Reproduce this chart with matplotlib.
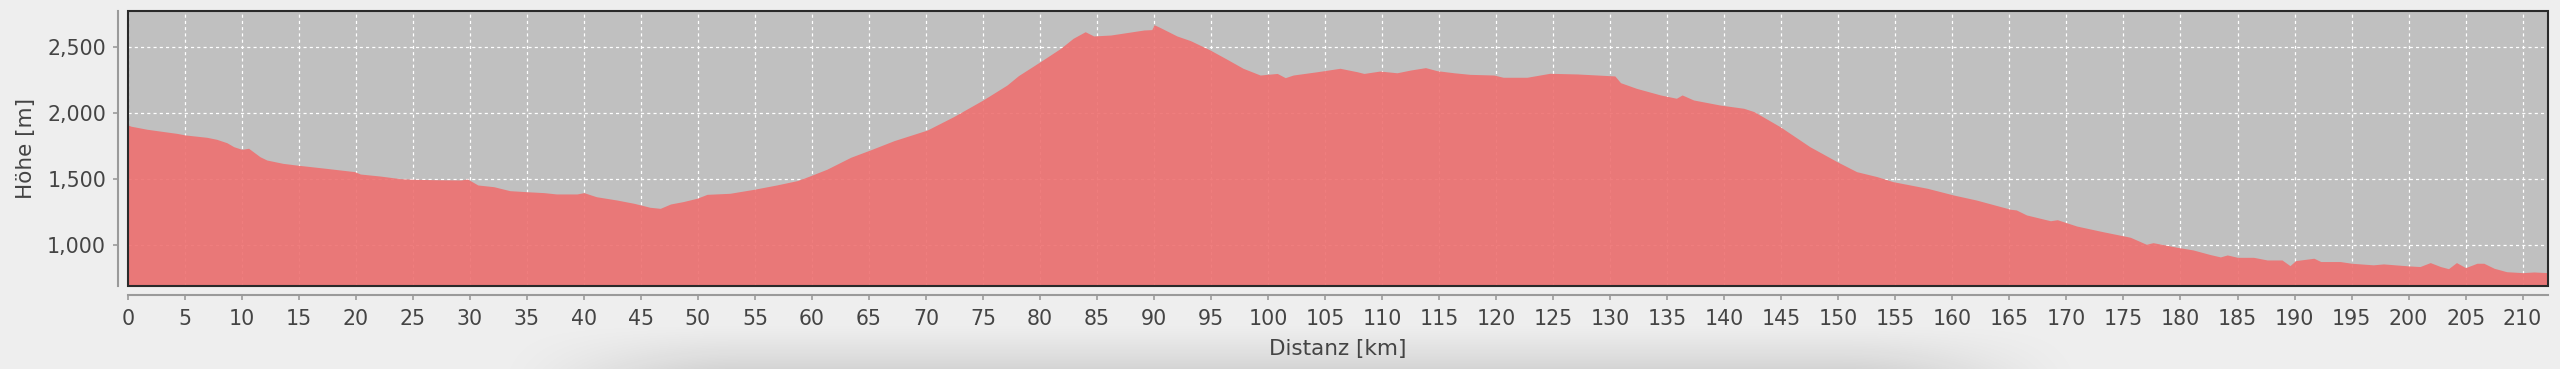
import matplotlib
matplotlib.use("Agg")
import numpy as np
import matplotlib.pyplot as plt
from matplotlib.patches import Rectangle
from matplotlib.ticker import FuncFormatter

# Elevation profile (distance in km, elevation in m)
distance_km = [
    0.0, 0.3, 1.7, 4.3, 5.05, 6.95, 7.8, 8.7, 9.3, 10.0, 10.6, 11.6, 12.2, 13.6,
    14.8, 17.4, 19.9, 20.4, 22.1, 23.9, 25.1, 27.0, 29.2, 29.8, 30.7, 32.1, 33.5,
    35.0, 36.5, 37.6, 39.4, 40.0, 41.1, 42.9, 44.4, 45.8, 46.7, 47.6, 48.7, 49.9,
    50.8, 52.8, 54.9, 56.9, 58.7, 59.8, 61.3, 63.4, 65.1, 67.2, 70.1, 72.4, 75.0,
    77.1, 78.1, 80.0, 81.8, 82.9, 83.96, 84.7, 86.2, 89.1, 89.8, 90.0, 90.5, 92.0,
    93.2, 94.9, 96.4, 97.8, 99.3, 100.8, 101.5, 102.2, 104.3, 106.3, 107.8, 108.4,
    109.8, 111.3, 112.5, 113.8, 114.8, 116.3, 117.7, 119.8, 120.6, 122.7, 124.7,
    127.1, 130.4, 130.9, 132.3, 134.4, 135.8, 136.3, 137.3, 139.6, 141.7, 142.6,
    144.9, 147.5, 149.9, 151.6, 153.4, 154.8, 157.8, 160.1, 162.1, 165.1, 165.6,
    166.5, 168.6, 169.2, 170.9, 173.2, 175.6, 177.0, 177.6, 179.7, 181.1, 182.6,
    183.5, 184.1, 185.0, 186.4, 187.6, 188.9, 189.6, 190.1, 191.7, 192.3, 194.0,
    195.0, 196.9, 197.8, 200.0, 201.0, 201.9, 202.8, 203.5, 204.2, 205.0, 206.0,
    206.6, 207.5, 208.6, 210.0, 211.0, 212.2,
]
elevation_m = [
    1911, 1902, 1879, 1848, 1836, 1818, 1803, 1777, 1747, 1727, 1735, 1671, 1646,
    1621, 1608, 1583, 1558, 1540, 1525, 1505, 1500, 1497, 1495, 1502, 1457, 1444,
    1414, 1406, 1399, 1389, 1389, 1399, 1368, 1343, 1318, 1288, 1280, 1313, 1331,
    1356, 1386, 1394, 1424, 1457, 1490, 1525, 1576, 1667, 1722, 1793, 1873, 1974,
    2101, 2214, 2285, 2390, 2492, 2568, 2618, 2586, 2593, 2631, 2634, 2671, 2651,
    2586, 2550, 2480, 2409, 2341, 2290, 2302, 2270, 2290, 2315, 2341, 2315, 2302,
    2320, 2307, 2328, 2346, 2323, 2307, 2295, 2290, 2273, 2273, 2303, 2298, 2283,
    2232, 2189, 2139, 2114, 2139, 2101, 2063, 2038, 2013, 1898, 1747, 1633, 1558,
    1520, 1482, 1432, 1381, 1343, 1273, 1268, 1230, 1186, 1194, 1146, 1103, 1061,
    1008, 1020, 985, 965, 930, 912, 927, 909, 909, 889, 889, 846, 884, 902, 877,
    877, 864, 852, 859, 844, 839, 869, 839, 823, 869, 831, 864, 864, 826, 800, 793,
    798, 793,
]

x_ticks = list(range(0, 215, 5))
y_ticks = [1000, 1500, 2000, 2500]
x_label = "Distanz [km]"
y_label = "Höhe [m]"

BG = "#EEEEEE"
PLOT_BG = "#C0C0C0"
FILL = "#EE7070"
TEXT = "#444444"

W, H = 2560, 369
fig = plt.figure(figsize=(W / 100, H / 100), dpi=100, facecolor=BG)

# soft drop shadow at the bottom of the window (screenshot decoration)
sh = fig.add_axes([0, 0, 1, 1], zorder=-1)
sh.axis("off")
xs = np.arange(W)
ys = np.arange(H)
hx = np.clip((xs - 480) / 260, 0, 1) * np.clip((2100 - xs) / 260, 0, 1)
hx = hx * hx * (3 - 2 * hx)
vy = np.clip((ys - 322) / 47, 0, 1) ** 1.3
alpha = 0.11 * np.outer(vy, hx)
img = np.zeros((H, W, 4))
img[..., 3] = alpha
sh.imshow(img, extent=(0, W, H, 0), aspect="auto")
sh.set_xlim(0, W)
sh.set_ylim(H, 0)

left, right, top, bottom = 127.7, 2547.7, 11.0, 285.7
ax = fig.add_axes([left / W, 1 - bottom / H, (right - left) / W, (bottom - top) / H])
ax.set_facecolor(PLOT_BG)

ax.set_xlim(0, 212.2)
ax.set_ylim(694, 2775)

ax.set_axisbelow(True)
ax.grid(True, color="white", linestyle=(0, (2.5, 2.5)), linewidth=0.9)
ax.fill_between(distance_km, elevation_m, 0, color=FILL, alpha=0.9, linewidth=0, zorder=2)

ax.set_xticks(x_ticks)
ax.set_yticks(y_ticks)
ax.yaxis.set_major_formatter(FuncFormatter(lambda v, p: f"{int(v):,}"))

for s in ["top", "right"]:
    ax.spines[s].set_visible(False)
for s in ["left", "bottom"]:
    ax.spines[s].set_position(("outward", 7))
    ax.spines[s].set_color("#9A9A9A")
    ax.spines[s].set_linewidth(1.5)

ax.add_patch(Rectangle((0, 0), 1, 1, transform=ax.transAxes, fill=False,
                       edgecolor="#2A2A2A", linewidth=1.5, zorder=5, clip_on=False))

ax.tick_params(axis="both", colors="#9A9A9A", labelcolor=TEXT, labelsize=14.8,
               length=3.5, width=1.2, direction="out")
ax.tick_params(axis="x", pad=6)
ax.tick_params(axis="y", pad=5)

ax.set_xlabel(x_label, fontsize=15.5, color=TEXT, labelpad=7.5)
ax.set_ylabel(y_label, fontsize=15.5, color=TEXT, labelpad=8)

fig.savefig("out.png", dpi=100, facecolor=BG)
